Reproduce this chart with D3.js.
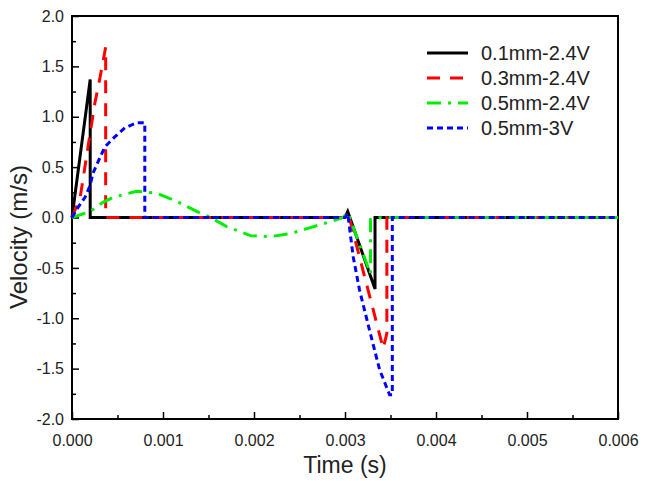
<!DOCTYPE html>
<html>
<head>
<meta charset="utf-8">
<script src="https://cdn.jsdelivr.net/npm/d3@7"></script>
<style>
  body { margin: 0; background: #fff; }
  svg { font-family: "Liberation Sans", Arial, sans-serif; }
  .tick text { fill: #222; }
</style>
</head>
<body>
<div id="chart"></div>
<script>
// data (time in s, velocity in m/s)
var seriesNames = ["0.1mm-2.4V", "0.3mm-2.4V", "0.5mm-2.4V", "0.5mm-3V"];

var t01 = [0, 0.0002, 0.0002, 0.0030, 0.00303, 0.00333, 0.00333, 0.006];
var v01 = [0, 1.37, 0, 0, 0.06, -0.71, 0, 0];

var t03 = [0, 0.00009, 0.0002, 0.00025, 0.00031, 0.00037, 0.00037, 0.0030, 0.00303, 0.00342, 0.00346, 0.00346, 0.006];
var v03 = [0, 0.2, 0.84, 1.13, 1.4, 1.69, 0, 0, 0.06, -1.3, -1.15, 0, 0];

var t05 = [0, 0.0002, 0.00034, 0.00045, 0.00071, 0.00093, 0.00115, 0.00137, 0.00152, 0.0017, 0.00196, 0.00218, 0.0024, 0.00262, 0.00284, 0.00298, 0.00303, 0.00328, 0.00328, 0.0034, 0.006];
var v05 = [0, 0.06, 0.15, 0.2, 0.26, 0.24, 0.16, 0.06, 0, -0.09, -0.18, -0.19, -0.16, -0.1, -0.04, 0, 0.05, -0.56, -0.02, 0, 0];

var t3v = [0, 0.000066, 0.000143, 0.0002, 0.00023, 0.00031, 0.00036, 0.00047, 0.00058, 0.00071, 0.0008, 0.0008, 0.0030, 0.00303, 0.00309, 0.00316, 0.00327, 0.00338, 0.00349, 0.00352, 0.00352, 0.006];
var v3v = [0, 0.1, 0.2, 0.32, 0.44, 0.6, 0.7, 0.8, 0.89, 0.94, 0.94, 0, 0, 0.04, -0.39, -0.72, -1.12, -1.51, -1.76, -1.76, 0, 0];

var xTicks = [0, 0.001, 0.002, 0.003, 0.004, 0.005, 0.006];
var yTicks = [-2.0, -1.5, -1.0, -0.5, 0.0, 0.5, 1.0, 1.5, 2.0];

var width = 647;
var height = 481;
var plotL = 72, plotR = 618, plotT = 16, plotB = 419;

var svg = d3.select("#chart").append("svg")
  .attr("width", width)
  .attr("height", height);

var xScale = d3.scaleLinear().domain([0, 0.006]).range([plotL, plotR]);
var yScale = d3.scaleLinear().domain([-2, 2]).range([plotB, plotT]);

// minor ticks
var xMinor = d3.range(0.0005, 0.006, 0.001);
var yMinor = d3.range(-1.75, 2, 0.5);

svg.append("g")
  .attr("transform", "translate(0," + plotB + ")")
  .call(d3.axisBottom(xScale).tickValues(xMinor).tickSize(-4).tickFormat(""))
  .call(function(g) { g.select(".domain").remove(); });
svg.append("g")
  .attr("transform", "translate(" + plotL + ",0)")
  .call(d3.axisLeft(yScale).tickValues(yMinor).tickSize(-4).tickFormat(""))
  .call(function(g) { g.select(".domain").remove(); });

// major ticks + labels
svg.append("g")
  .attr("transform", "translate(0," + plotB + ")")
  .call(d3.axisBottom(xScale).tickValues(xTicks).tickSize(-7).tickPadding(16)
    .tickFormat(function(d) { return d.toFixed(3); }))
  .call(function(g) { g.select(".domain").remove(); })
  .selectAll("text").attr("font-size", 16).attr("font-family", "Liberation Sans, Arial, sans-serif");
svg.append("g")
  .attr("transform", "translate(" + plotL + ",0)")
  .call(d3.axisLeft(yScale).tickValues(yTicks).tickSize(-7).tickPadding(8)
    .tickFormat(function(d) { return d.toFixed(1); }))
  .call(function(g) { g.select(".domain").remove(); })
  .selectAll("text").attr("font-size", 16).attr("font-family", "Liberation Sans, Arial, sans-serif");

svg.selectAll(".tick line").attr("stroke", "#000").attr("stroke-width", 1.5);

// frame
svg.append("rect")
  .attr("x", plotL).attr("y", plotT)
  .attr("width", plotR - plotL).attr("height", plotB - plotT)
  .attr("fill", "none").attr("stroke", "#000").attr("stroke-width", 2);

// axis titles
svg.append("text")
  .attr("x", (plotL + plotR) / 2).attr("y", 473)
  .attr("text-anchor", "middle").attr("font-size", 23).attr("fill", "#222")
  .text("Time (s)");
svg.append("text")
  .attr("transform", "translate(27,237)rotate(-90)")
  .attr("text-anchor", "middle").attr("font-size", 24).attr("fill", "#222")
  .text("Velocity (m/s)");

// lines
var styles = [
  { color: "#000000", dash: null },
  { color: "#ff0000", dash: "13,10" },
  { color: "#00ee00", dash: "14,7,3,7" },
  { color: "#0000ff", dash: "6,4" }
];
var allT = [t01, t03, t05, t3v];
var allV = [v01, v03, v05, v3v];

var line = d3.line()
  .x(function(d) { return xScale(d[0]); })
  .y(function(d) { return yScale(d[1]); });

var plot = svg.append("g");
allT.forEach(function(ts, i) {
  var pts = ts.map(function(t, j) { return [t, allV[i][j]]; });
  plot.append("path")
    .datum(pts)
    .attr("d", line)
    .attr("fill", "none")
    .attr("stroke", styles[i].color)
    .attr("stroke-width", 3)
    .attr("stroke-dasharray", styles[i].dash);
});

// legend
var legend = svg.append("g");
seriesNames.forEach(function(name, i) {
  var y = 53 + i * 25;
  legend.append("line")
    .attr("x1", 427).attr("x2", 468)
    .attr("y1", y).attr("y2", y)
    .attr("stroke", styles[i].color)
    .attr("stroke-width", 3)
    .attr("stroke-dasharray", styles[i].dash);
  legend.append("text")
    .attr("x", 481).attr("y", y)
    .attr("dy", "0.36em")
    .attr("font-size", 20).attr("fill", "#222")
    .text(name);
});
</script>
</body>
</html>
